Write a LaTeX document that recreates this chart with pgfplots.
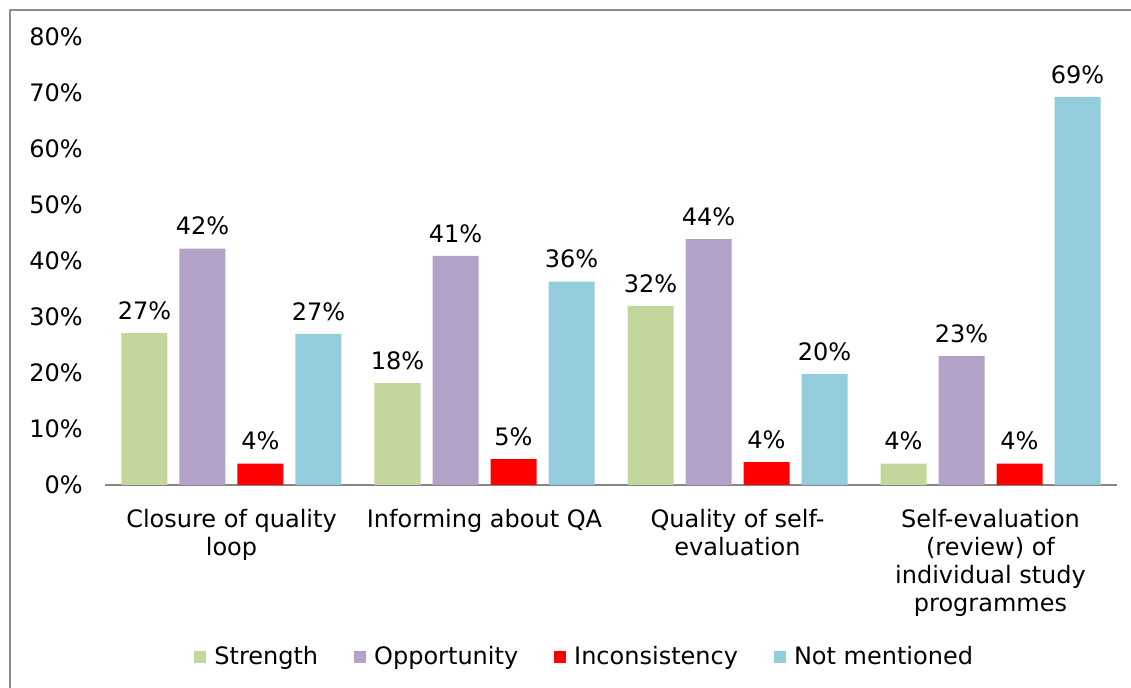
\documentclass[border=0pt]{standalone}
\usepackage{pgfplots}
\pgfplotsset{compat=1.18}
\usepackage{fontspec}
\setmainfont{DejaVu Sans}
\definecolor{cStr}{HTML}{C3D69B}
\definecolor{cOpp}{HTML}{B3A2C7}
\definecolor{cInc}{HTML}{FF0000}
\definecolor{cNot}{HTML}{93CDDD}
\definecolor{frameGray}{HTML}{8C8C8C}
\definecolor{axGray}{HTML}{868686}
\begin{document}
\fontsize{12}{14}\selectfont
\begin{tikzpicture}
\useasboundingbox (-52.5pt,-101.5pt) rectangle (513pt,242.5pt);
\draw[frameGray, line width=1pt] (-47.5pt,-105pt) -- (-47.5pt,237.5pt) -- (520pt,237.5pt);
\begin{axis}[
  at={(0,0)}, anchor=south west,
  scale only axis, width=506pt, height=224pt,
  xmin=-0.5, xmax=3.5, ymin=0, ymax=80,
  ybar=6pt, bar width=23pt,
  axis x line*=bottom, axis y line*=left,
  x axis line style={axGray, line width=0.75pt, -},
  y axis line style={draw=none},
  xtick={0,1,2,3},
  xticklabels={{Closure of quality\\loop},{Informing about QA},{Quality of self-\\evaluation},{Self-evaluation\\(review) of\\individual study\\programmes}},
  xticklabel style={align=center, font=\fontsize{12}{14}\selectfont, yshift=-8pt},
  major tick length=0pt,
  ytick={0,10,...,80},
  yticklabel={\pgfmathprintnumber{\tick}\%},
  yticklabel style={font=\fontsize{12}{14}\selectfont, anchor=east, xshift=-7pt},
  /pgf/number format/assume math mode=true,
  nodes near coords={\pgfmathprintnumber[fixed,precision=0]{\pgfplotspointmeta}\%},
  nodes near coords style={font=\fontsize{12}{14}\selectfont, black, yshift=2.5pt},
  clip=false,
  legend columns=4,
  legend style={draw=none, at={(0.475,-0.384)}, anchor=center, font=\fontsize{12}{14}\selectfont,
    /tikz/every odd column/.append style={column sep=2pt},
    /tikz/every even column/.append style={column sep=16pt}},
  legend image code/.code={\fill[#1] (0pt,-3pt) rectangle (6pt,3pt);},
]
\addplot[fill=cStr, draw=none] coordinates {(0,27.1) (1,18.2) (2,32.0) (3,3.8)};
\addplot[fill=cOpp, draw=none] coordinates {(0,42.2) (1,40.9) (2,43.9) (3,23.0)};
\addplot[fill=cInc, draw=none] coordinates {(0,3.8) (1,4.6) (2,4.1) (3,3.8)};
\addplot[fill=cNot, draw=none] coordinates {(0,27.0) (1,36.3) (2,19.8) (3,69.3)};
\legend{Strength,Opportunity,Inconsistency,Not mentioned}
\end{axis}
\end{tikzpicture}
\end{document}
